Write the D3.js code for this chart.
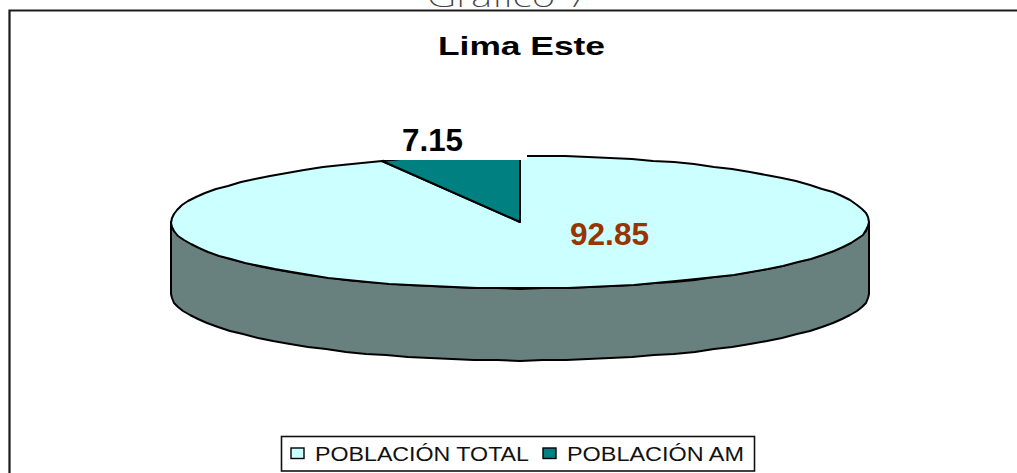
<!DOCTYPE html>
<html><head><meta charset="utf-8">
<script src="https://cdn.jsdelivr.net/npm/d3@7"></script>
<style>html,body{margin:0;padding:0;background:#fff;overflow:hidden}svg{display:block}text{font-family:"Liberation Sans",Arial,sans-serif}</style>
</head><body><svg id="c" width="1017" height="473"></svg>
<script>
const categories = ["POBLACIÓN TOTAL", "POBLACIÓN AM"];
const values = [92.85, 7.15];
const colors = ["#ccffff", "#008080"];
const sideColor = "#68807e";
const labelColors = ["#993300", "#000000"];
const chartTitle = "Lima Este";
const pageTitle = "Gráfico  7";

const svg = d3.select("#c");
svg.append("path").attr("d","M9.5,473V10.5H1017").attr("fill","none").attr("stroke","#1a1a1a").attr("stroke-width",2.2);
svg.append("text").attr("x",508).attr("y",7).attr("text-anchor","middle").attr("font-size",30).attr("font-weight",200)
  .attr("fill","#444").attr("textLength",162).attr("lengthAdjust","spacingAndGlyphs").style("font-family","'Noto Sans',sans-serif").text(pageTitle);
svg.append("text").attr("x",521.5).attr("y",55).attr("text-anchor","middle").attr("font-size",26).attr("font-weight",700)
  .attr("textLength",167).attr("lengthAdjust","spacingAndGlyphs").text(chartTitle);

const cx=520, cy=222, rx=349, ry=66.5, depth=72;
const pie = d3.pie().value(d=>d).sort(null).startAngle(0).endAngle(2*Math.PI);
const arcs = pie(values);
const warp = d3.scaleLinear().domain([0, arcs[1].startAngle, 2*Math.PI]).range([0, 2*Math.PI-0.405, 2*Math.PI]);
const px = a => cx + rx*Math.sin(a), py = (a,dz=0) => cy - ry*Math.cos(a) + dz;
const line = d3.line().x(d=>d[0]).y(d=>d[1]);
const stepN = 96;
const sample = (a0,a1,dz=0)=>{const n=Math.max(2,Math.ceil(Math.abs(a1-a0)/(2*Math.PI)*stepN));
  return d3.range(n+1).map(i=>{const a=a0+(a1-a0)*i/n;return [Math.round(px(a)),Math.round(py(a,dz))];});};

const front = sample(Math.PI/2,3*Math.PI/2);
const frontLow = sample(3*Math.PI/2,Math.PI/2,depth);
svg.append("path").attr("d",line(front.concat(frontLow))+"Z").attr("fill",sideColor).attr("stroke","#000").attr("stroke-width",2).attr("stroke-linejoin","round");

arcs.forEach((d,i)=>{
  const a0=warp(d.startAngle), a1=warp(d.endAngle);
  const pts=[[cx,cy]].concat(sample(a0,a1));
  svg.append("path").attr("d",line(pts)+"Z").attr("fill",colors[i]).attr("stroke","#000").attr("stroke-width",2).attr("stroke-linejoin","round");
});
svg.append("rect").attr("x",384).attr("y",130).attr("width",143).attr("height",30).attr("fill","#fff");
svg.append("text").attr("x",432.5).attr("y",151).attr("text-anchor","middle").attr("font-size",31).attr("font-weight",700).attr("fill",labelColors[1])
  .attr("textLength",61).attr("lengthAdjust","spacingAndGlyphs").text(values[1].toFixed(2));
svg.append("text").attr("x",609.5).attr("y",245).attr("text-anchor","middle").attr("font-size",31).attr("font-weight",700).attr("fill",labelColors[0])
  .attr("textLength",79).attr("lengthAdjust","spacingAndGlyphs").text(values[0].toFixed(2));

svg.append("rect").attr("x",281.5).attr("y",436.5).attr("width",473).attr("height",34.5).attr("fill","#fff").attr("stroke","#111").attr("stroke-width",1.6);
const legendX=[[291,315,214],[543,567,177]];
categories.forEach((c,i)=>{
  svg.append("rect").attr("x",legendX[i][0]).attr("y",448).attr("width",13).attr("height",10.5).attr("fill",colors[i]).attr("stroke","#000").attr("stroke-width",1.4);
  svg.append("text").attr("x",legendX[i][1]).attr("y",461).attr("font-size",20).attr("fill","#111")
    .attr("textLength",legendX[i][2]).attr("lengthAdjust","spacingAndGlyphs").text(c);
});
</script></body></html>
